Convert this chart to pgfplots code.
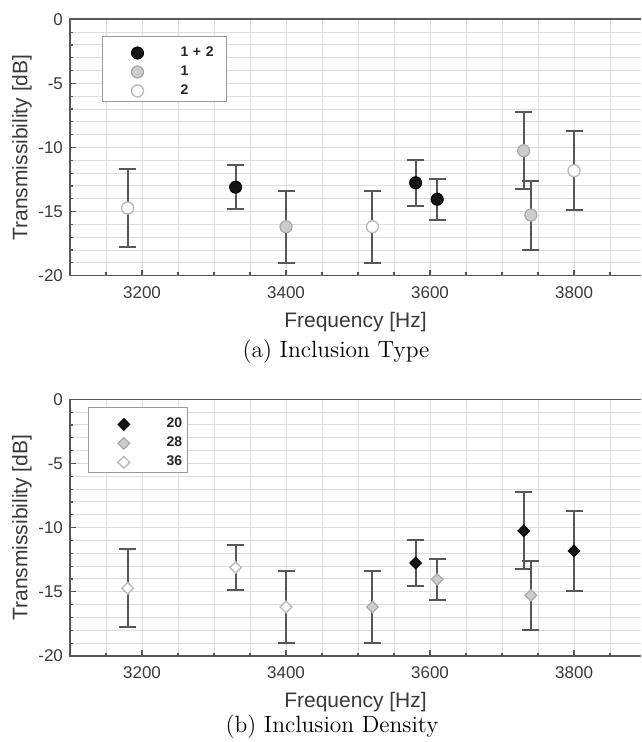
\documentclass[border=0pt]{standalone}
\usepackage{fontspec}
\usepackage{pgfplots}
\pgfplotsset{compat=1.18}
\newfontfamily\arial{Liberation Sans}

\definecolor{axgray}     {HTML}{575757}
\definecolor{txtgray}    {HTML}{3A3A3A}
\definecolor{gridgray}   {HTML}{DEDEDE}
\definecolor{mkblack}    {HTML}{151515}
\definecolor{mkgray}     {HTML}{CDCDCD}
\definecolor{mkgrayedge} {HTML}{A8A8A8}
\definecolor{mkwhiteedge}{HTML}{BBBBBB}
\definecolor{legedge}    {HTML}{9A9A9A}

\pgfplotsset{
  trans/.style={
    scale only axis, width=285.5pt,
    xmin=3100, xmax=3893, ymin=-20, ymax=0,
    xtick={3200,3400,3600,3800}, minor xtick={3100,3150,...,3900},
    ytick={-20,-15,...,0}, minor ytick={-20,-19,...,0},
    grid=both,
    major grid style={gridgray, line width=0.5pt},
    minor grid style={gridgray, line width=0.5pt},
    tick align=inside, tick pos=left,
    major tick length=3pt, minor tick length=1.6pt,
    every tick/.style={axgray, line width=0.6pt},
    axis line style={draw=none},
    clip=false,
    /pgf/number format/assume math mode=true,
    /pgf/number format/1000 sep={},
    tick label style={font=\arial\fontsize{8.5}{10}\selectfont, text=txtgray},
    xticklabel style={yshift=-1.8pt},
    label style={font=\arial\fontsize{10.5}{12}\selectfont, text=txtgray},
    xlabel={Frequency [Hz]}, ylabel={Transmissibility [dB]},
    ylabel shift=-3.5pt,
    legend cell align=left,
    error bars/y dir=both, error bars/y explicit,
    error bars/error bar style={axgray, line width=1pt},
    error bars/error mark options={rotate=90, axgray, mark size=4.25pt, line width=1pt},
  },
  legbox/.style 2 args={legend style={at={(0,1)}, anchor=north west,
    xshift=#1, yshift=#2, draw=legedge, line width=0.5pt, fill=white,
    inner ysep=2pt, row sep=0pt,
    font=\arial\bfseries\fontsize{7}{8}\selectfont, text=black!85}},
  imgA/.style={legend image code/.code={\path[draw=none, fill=none] (-13.5pt,-2.2pt) rectangle (21.5pt,6.3pt);
    \draw[##1] plot coordinates {(0pt,0pt)};}},
  imgB/.style={legend image code/.code={\path[draw=none, fill=none] (-15.2pt,-2.2pt) rectangle (21.3pt,6.3pt);
    \draw[##1] plot coordinates {(0pt,0pt)};}},
  sblack/.style={only marks, mark=*, mark size=3pt, mark options={fill=mkblack, draw=black, line width=0.5pt}},
  sgray/.style={only marks, mark=*, mark size=3pt, mark options={fill=mkgray, draw=mkgrayedge, line width=0.6pt}},
  swhite/.style={only marks, mark=*, mark size=3pt, mark options={fill=white, draw=mkwhiteedge, line width=0.7pt}},
  dblack/.style={only marks, mark=square*, mark size=2.05pt, mark options={rotate=45, fill=mkblack, draw=black, line width=0.5pt}},
  dgray/.style={only marks, mark=square*, mark size=2.05pt, mark options={rotate=45, fill=mkgray, draw=mkgrayedge, line width=0.6pt}},
  dwhite/.style={only marks, mark=square*, mark size=2.05pt, mark options={rotate=45, fill=white, draw=mkwhiteedge, line width=0.7pt}},
}

\begin{document}
\begin{tikzpicture}
% (a) inclusion type
\begin{axis}[trans, at={(35pt,-137.85pt)}, anchor=south west, height=128.2pt,
  legbox={16pt}{-8.3pt}, legend style={inner xsep=4pt, nodes={inner sep=0pt, text width=19pt}}]
\addplot[sblack, imgA] coordinates {(3330,-13.10) +- (0,1.72) (3580,-12.75) +- (0,1.80) (3610,-14.04) +- (0,1.60)};
\addlegendentry{1 + 2}
\addplot[sgray, imgA] coordinates {(3400,-16.18) +- (0,2.81) (3730,-10.25) +- (0,3.01) (3740,-15.27) +- (0,2.69)};
\addlegendentry{1}
\addplot[swhite, imgA] coordinates {(3180,-14.72) +- (0,3.03) (3520,-16.18) +- (0,2.81) (3800,-11.81) +- (0,3.10)};
\addlegendentry{2}
\draw[axgray, line width=0.8pt] (rel axis cs:1,1) -- (rel axis cs:0,1) -- (rel axis cs:0,0) -- (rel axis cs:1,0);
\end{axis}
\node[anchor=base, font=\fontsize{11.75}{14}\selectfont] at (168pt,-178.65pt) {(a) Inclusion Type};

% (b) inclusion density
\begin{axis}[trans, at={(35pt,-328pt)}, anchor=south west, height=128.35pt,
  legbox={9pt}{-4pt}, legend style={inner xsep=2.5pt, nodes={inner sep=0pt}}]
\addplot[dblack, imgB] coordinates {(3580,-12.75) +- (0,1.80) (3730,-10.25) +- (0,3.01) (3800,-11.81) +- (0,3.10)};
\addlegendentry{20}
\addplot[dgray, imgB] coordinates {(3520,-16.18) +- (0,2.81) (3610,-14.04) +- (0,1.60) (3740,-15.27) +- (0,2.69)};
\addlegendentry{28}
\addplot[dwhite, imgB] coordinates {(3180,-14.72) +- (0,3.03) (3330,-13.10) +- (0,1.72) (3400,-16.18) +- (0,2.81)};
\addlegendentry{36}
\draw[axgray, line width=0.8pt] (rel axis cs:1,1) -- (rel axis cs:0,1) -- (rel axis cs:0,0) -- (rel axis cs:1,0);
\end{axis}
\node[anchor=base, font=\fontsize{11.75}{14}\selectfont] at (166pt,-366pt) {(b) Inclusion Density};

\pgfresetboundingbox
\useasboundingbox (0,0) rectangle (320.5pt,-371pt);
\end{tikzpicture}
\end{document}
